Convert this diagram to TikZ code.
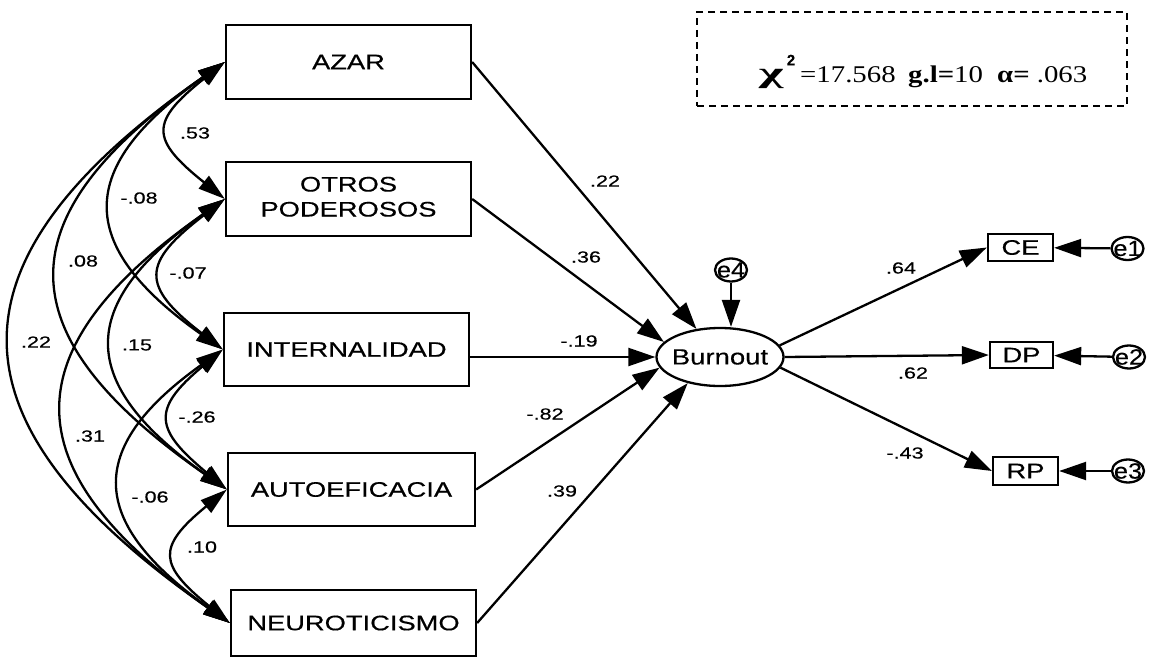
\documentclass[tikz,border=0pt]{standalone}
\usepackage{fontspec}
\usepackage{graphicx}
\setmainfont{Liberation Sans}[FakeBold=0.3]
\newfontfamily\amosf{Liberation Sans}[FakeBold=0.3]
\newfontfamily\timesf{Liberation Serif}
\usetikzlibrary{arrows.meta,shapes.geometric}
\newcommand{\sxb}[2]{\scalebox{#1}[1]{#2}}
\begin{document}
\begin{tikzpicture}[x=1pt,y=-1pt,
  box/.style={draw,line width=2.3pt,inner sep=0pt,font=\amosf\addfontfeatures{FakeBold=0.4}\fontsize{21}{25}\selectfont},
  lbl/.style={inner sep=0pt,font=\fontsize{16}{16}\selectfont},
  arr/.style={line width=2.3pt,-{Triangle[length=27pt,width=18pt]}},
  cov/.style={line width=2.3pt,{Triangle[length=27pt,width=16pt]}-{Triangle[length=27pt,width=16pt]}},
  err/.style={draw,ellipse,line width=2.3pt,minimum width=32pt,minimum height=23pt,inner xsep=-7pt,inner ysep=-6pt,font=\fontsize{22}{22}\selectfont},
  leg/.style={inner sep=0pt,anchor=base west,font=\timesf\fontsize{24}{24}\selectfont},
]
\useasboundingbox (0,0) rectangle (1151,658);
\fill[white] (0,0) rectangle (1151,658);

% predictor boxes
\node[box,minimum width=245pt,minimum height=74pt] (az) at (348.5,62) {\sxb{1.3}{AZAR}};
\node[box,minimum width=245pt,minimum height=74pt] (ot) at (348.5,199) {\sxb{1.3}{\begin{tabular}{@{}c@{}}OTROS\\PODEROSOS\end{tabular}}};
\node[box,minimum width=245pt,minimum height=73pt] (in) at (346.5,349.5) {\sxb{1.3}{INTERNALIDAD}};
\node[box,minimum width=247pt,minimum height=73pt] (au) at (351.5,489.5) {\sxb{1.3}{AUTOEFICACIA}};
\node[box,minimum width=245pt,minimum height=66pt] (ne) at (353.5,623) {\sxb{1.3}{NEUROTICISMO}};

% latent
\node[draw,ellipse,line width=2.3pt,minimum width=127pt,minimum height=58pt,inner xsep=-8pt,inner ysep=0pt,font=\fontsize{22}{22}\selectfont] (bo) at (720,357) {\sxb{1.25}{Burnout}};

% indicators
\node[box,minimum width=65pt,minimum height=27pt] (ce) at (1020.5,247.5) {\sxb{1.3}{CE}};
\node[box,minimum width=63pt,minimum height=26pt] (dp) at (1021.5,355) {\sxb{1.3}{DP}};
\node[box,minimum width=65pt,minimum height=28pt] (rp) at (1025.5,471) {\sxb{1.3}{RP}};

% errors
\node[err] (e1) at (1127.5,248.5) {\sxb{1.15}{e1}};
\node[err] (e2) at (1129,357) {\sxb{1.15}{e2}};
\node[err] (e3) at (1128,471) {\sxb{1.15}{e3}};
\node[err] (e4) at (731,270) {\sxb{1.15}{e4}};

% structural paths
\draw[arr] (az.east) -- (bo.130);
\draw[arr] (ot.east) -- (bo.165);
\draw[arr] (in.east |- bo.west) -- (bo.west);
\draw[arr] (au.east) -- (bo.190);
\draw[arr] (ne.east) -- (bo.219);
\draw[arr] (e4) -- (e4 |- bo.north);

\draw[arr] (bo.11) -- (ce.west);
\draw[arr] (bo.east) -- (dp.west);
\draw[arr] (bo.-10) -- (rp.west);
\draw[arr] (e1) -- (ce);
\draw[arr] (e2) -- (dp);
\draw[arr] (e3) -- (rp);

% covariances
\draw[cov] (az.west) .. controls +(-75,60) and +(-75,-60) .. (ot.west);
\draw[cov] (az.west) .. controls +(-149,105) and +(-149,-105) .. (in.west);
\draw[cov] (az.west) .. controls +(-223,155) and +(-223,-155) .. (au.west);
\draw[cov] (az.west) .. controls +(-287,200) and +(-287,-200) .. (ne.west);
\draw[cov] (ot.west) .. controls +(-83,64) and +(-83,-64) .. (in.west);
\draw[cov] (ot.west) .. controls +(-150,106) and +(-150,-106) .. (au.west);
\draw[cov] (ot.west) .. controls +(-217,152) and +(-217,-152) .. (ne.west);
\draw[cov] (in.west) .. controls +(-72,60) and +(-72,-60) .. (au.west);
\draw[cov] (in.west) .. controls +(-140,100) and +(-140,-100) .. (ne.west);
\draw[cov] (au.west) .. controls +(-71,58) and +(-71,-58) .. (ne.west);

% covariance labels
\node[lbl] (l1) at (195,133) {\sxb{1.35}{.53}};
\node[lbl] (l2) at (139,198) {\sxb{1.35}{-.08}};
\node[lbl] (l3) at (83,261) {\sxb{1.35}{.08}};
\node[lbl] (l4) at (36,342) {\sxb{1.35}{.22}};
\node[lbl] (l5) at (188,273) {\sxb{1.35}{-.07}};
\node[lbl] (l6) at (137,345) {\sxb{1.35}{.15}};
\node[lbl] (l7) at (90,436) {\sxb{1.35}{.31}};
\node[lbl] (l8) at (197,417) {\sxb{1.35}{-.26}};
\node[lbl] (l9) at (150,497) {\sxb{1.35}{-.06}};
\node[lbl] (l10) at (202,547) {\sxb{1.35}{.10}};

% path labels
\node[lbl] (p1) at (605,181) {\sxb{1.35}{.22}};
\node[lbl] (p2) at (586,257) {\sxb{1.35}{.36}};
\node[lbl] (p3) at (579,341) {\sxb{1.35}{-.19}};
\node[lbl] (p4) at (545,414) {\sxb{1.35}{-.82}};
\node[lbl] (p5) at (562,491) {\sxb{1.35}{.39}};
\node[lbl] (p6) at (901,268) {\sxb{1.35}{.64}};
\node[lbl] (p7) at (913,373) {\sxb{1.35}{.62}};
\node[lbl] (p8) at (905,453) {\sxb{1.35}{-.43}};

% legend
\node[draw,dash pattern=on 7pt off 5pt,line width=1.6pt,minimum width=430pt,minimum height=94pt,inner sep=0pt] (lg) at (912,59) {};
\node[inner sep=0pt,anchor=base,font=\timesf\fontsize{24}{24}\selectfont] (chi) at (771,83) {\scalebox{2.2}[1.2]{\bfseries χ}};
\node[inner sep=0pt,font=\bfseries\fontsize{15}{15}\selectfont] (two) at (791,60) {2};
\node[leg] (v1) at (800,83) {\sxb{1.2}{=17.568}};
\node[leg] (v2) at (908,83) {\sxb{1.2}{\textbf{g.l=}10}};
\node[leg] (v3) at (997,83) {\sxb{1.2}{\textbf{α=} .063}};
\end{tikzpicture}
\end{document}
